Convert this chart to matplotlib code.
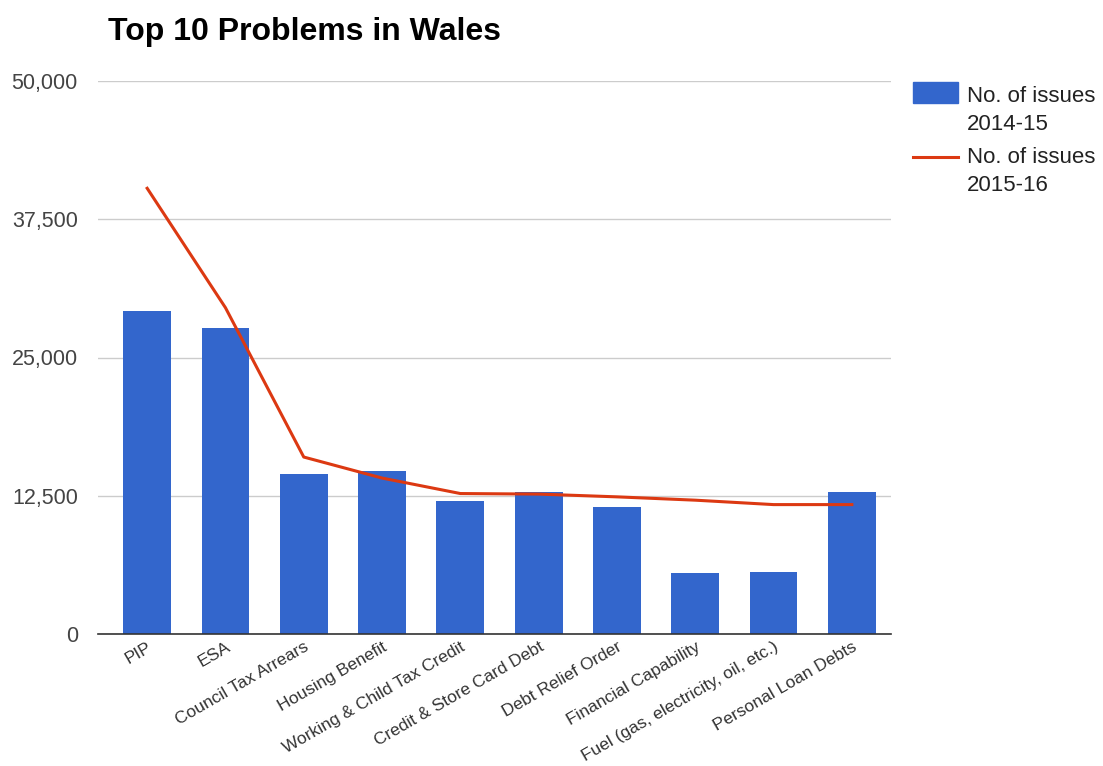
import matplotlib
matplotlib.use("Agg")
import matplotlib.pyplot as plt
import matplotlib.ticker as mticker
from matplotlib.patches import Rectangle
from matplotlib.lines import Line2D
import numpy as np

plt.rcParams["font.family"] = ["Liberation Sans", "DejaVu Sans"]

categories = [
    "PIP", "ESA", "Council Tax Arrears", "Housing Benefit",
    "Working & Child Tax Credit", "Credit & Store Card Debt",
    "Debt Relief Order", "Financial Capability",
    "Fuel (gas, electricity, oil, etc.)", "Personal Loan Debts",
]
issues_2014_15 = [29200, 27700, 14500, 14700, 12000, 12800, 11500, 5500, 5600, 12800]
issues_2015_16 = [40300, 29500, 16000, 14100, 12700, 12650, 12400, 12100, 11700, 11700]
yticks = [0, 12500, 25000, 37500, 50000]
series_labels = [("No. of issues", "2014-15"), ("No. of issues", "2015-16")]

BLUE = "#3366cc"
RED = "#dc3912"
W, H = 1103, 766

fig = plt.figure(figsize=(W / 100, H / 100), dpi=100)
ax = fig.add_axes([98 / W, 1 - 634 / H, (891 - 98) / W, (634 - 81) / H])

x = np.arange(len(categories))
ax.bar(x, issues_2014_15, width=0.61, color=BLUE, zorder=2)
ax.plot(x, issues_2015_16, color=RED, lw=2.2, zorder=3)

ax.set_xlim(-0.628, 9.5)
ax.set_ylim(0, 50000)
ax.set_yticks(yticks)
ax.yaxis.set_major_formatter(mticker.FuncFormatter(lambda v, p: f"{int(v):,}"))
ax.tick_params(axis="y", length=0, pad=14.5, labelsize=15.5, labelcolor="#444444")
ax.grid(axis="y", color="#cccccc", lw=1, zorder=0)

ax.set_xticks(x)
ax.set_xticklabels(categories, rotation=30, ha="right", rotation_mode="anchor",
                   fontsize=12.5, color="#333333")
ax.tick_params(axis="x", length=0, pad=4)

for s in ["top", "right", "left"]:
    ax.spines[s].set_visible(False)
ax.spines["bottom"].set_color("#333333")
ax.spines["bottom"].set_linewidth(1.2)
ax.spines["bottom"].set_zorder(4)

fig.text(108 / W, 1 - 40 / H, "Top 10 Problems in Wales",
         fontsize=23, fontweight="bold", color="#000000")

# legend, drawn by hand to match the two-line label layout
fig.add_artist(Rectangle((913 / W, 1 - 103 / H), 45 / W, 21 / H,
                         transform=fig.transFigure, color=BLUE))
fig.add_artist(Line2D([913 / W, 958 / W], [1 - 157 / H, 1 - 157 / H],
                      transform=fig.transFigure, color=RED, lw=2.2))
for (l1, l2), (b1, b2) in zip(series_labels, [(102, 130), (163, 191)]):
    fig.text(967 / W, 1 - b1 / H, l1, fontsize=16, color="#222222", va="baseline")
    fig.text(967 / W, 1 - b2 / H, l2, fontsize=16, color="#222222", va="baseline")

fig.savefig("out.png", dpi=100)
